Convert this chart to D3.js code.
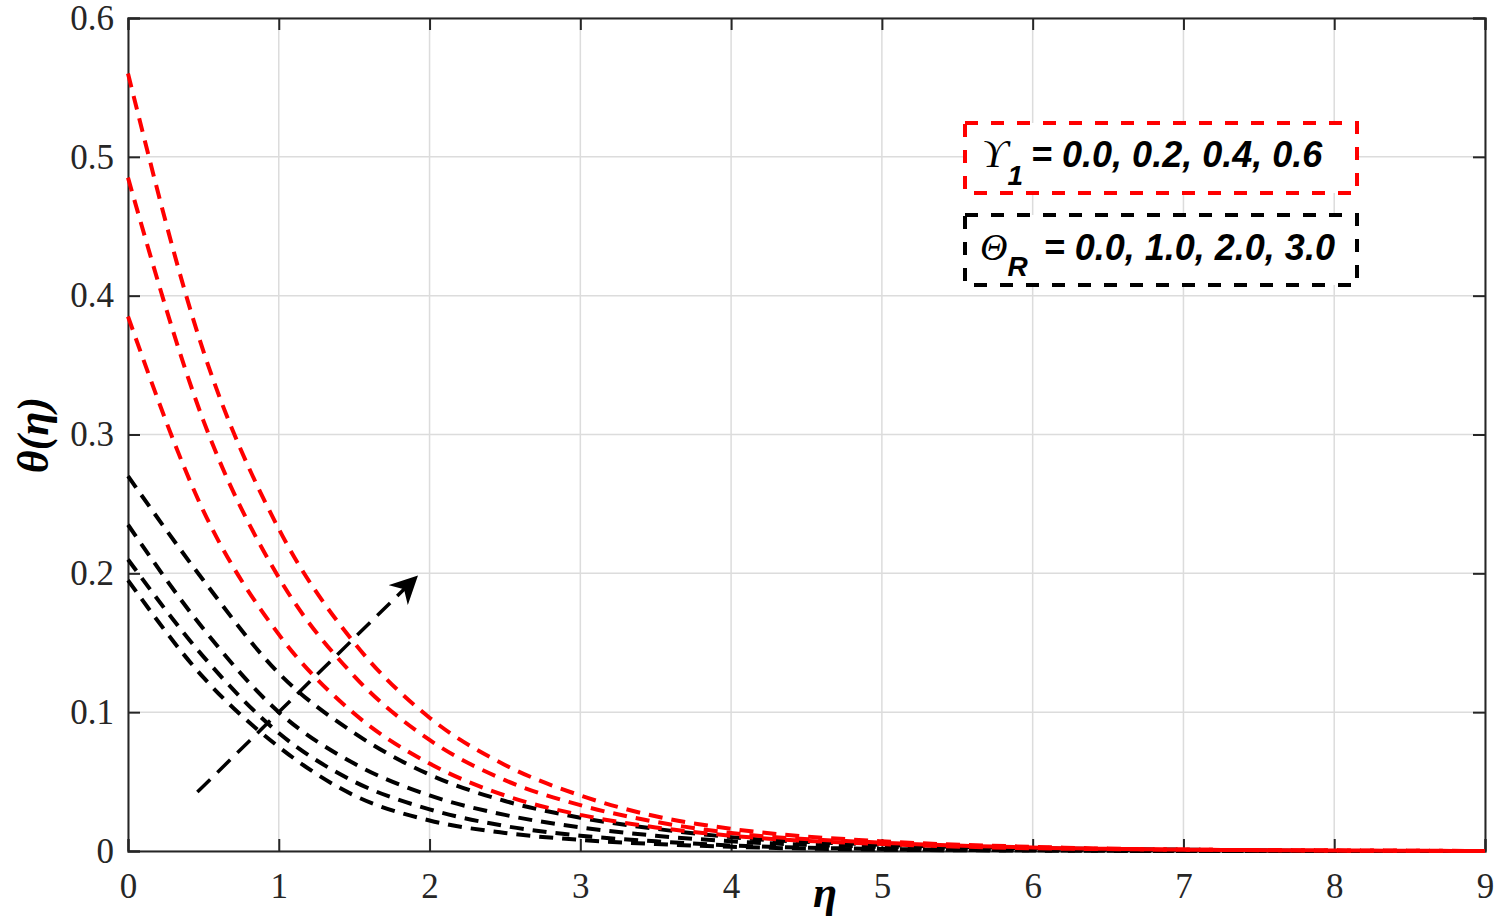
<!DOCTYPE html>
<html><head><meta charset="utf-8">
<script src="https://cdn.jsdelivr.net/npm/d3@7"></script>
<style>body{margin:0;background:#fff}</style>
</head><body>
<svg id="c" width="1500" height="921"></svg>
<script>
// eta grid and profiles
var eta = [0, 0.5, 1, 1.5, 2, 2.5, 3, 3.5, 4, 5, 6, 7, 8, 9];
var red1 = [0.56, 0.36, 0.232, 0.15, 0.096, 0.062, 0.04, 0.025, 0.016, 0.007, 0.003, 0.001, 0.0005, 0];
var red2 = [0.485, 0.31, 0.197, 0.126, 0.08, 0.051, 0.033, 0.021, 0.013, 0.006, 0.0025, 0.001, 0.0004, 0];
var red3 = [0.385, 0.245, 0.156, 0.099, 0.063, 0.04, 0.026, 0.017, 0.011, 0.005, 0.002, 0.001, 0.0003, 0];
var blk1 = [0.27, 0.195, 0.128, 0.085, 0.055, 0.036, 0.024, 0.016, 0.01, 0.0045, 0.002, 0.001, 0, 0];
var blk2 = [0.235, 0.16, 0.1, 0.063, 0.04, 0.026, 0.017, 0.011, 0.007, 0.003, 0.001, 0.0005, 0, 0];
var blk3 = [0.21, 0.14, 0.085, 0.05, 0.03, 0.018, 0.011, 0.007, 0.004, 0.0015, 0.0005, 0, 0, 0];
var blk4 = [0.195, 0.125, 0.075, 0.04, 0.022, 0.013, 0.008, 0.005, 0.003, 0.001, 0.0003, 0, 0, 0];
var xTicks = [0, 1, 2, 3, 4, 5, 6, 7, 8, 9];
var yTicks = [0, 0.1, 0.2, 0.3, 0.4, 0.5, 0.6];
var arrowFrom = [0.46, 0.0425], arrowTo = [1.91, 0.197];

var svg = d3.select("#c");
var x = d3.scaleLinear().domain([0, 9]).range([128, 1485]);
var y = d3.scaleLinear().domain([0, 0.6]).range([851, 18]);

svg.append("defs").append("marker").attr("id", "ah").attr("viewBox", "0 0 10 10")
    .attr("refX", 9).attr("refY", 5).attr("markerUnits", "userSpaceOnUse").attr("orient", "auto")
    .attr("markerWidth", 28).attr("markerHeight", 28)
    .append("path").attr("d", "M0,0 L10,5 L0,10 L3,5 Z").attr("fill", "#000");

// grid
svg.append("g").selectAll("line").data(xTicks).join("line")
    .attr("x1", d => x(d)).attr("x2", d => x(d)).attr("y1", y(0)).attr("y2", y(0.6))
    .attr("stroke", "#dcdcdc").attr("stroke-width", 1.5);
svg.append("g").selectAll("line").data(yTicks).join("line")
    .attr("x1", x(0)).attr("x2", x(9)).attr("y1", d => y(d)).attr("y2", d => y(d))
    .attr("stroke", "#dcdcdc").attr("stroke-width", 1.5);

// axes
svg.append("g").attr("transform", "translate(0," + y(0) + ")")
    .call(d3.axisBottom(x).tickValues(xTicks).tickSize(-12).tickPadding(22).tickFormat(d3.format("d")));
svg.append("g").attr("transform", "translate(" + x(0) + ",0)")
    .call(d3.axisLeft(y).tickValues(yTicks).tickSize(-12).tickPadding(14).tickFormat(d => d === 0 ? "0" : d3.format(".1f")(d)));
svg.append("g").attr("transform", "translate(0," + y(0.6) + ")")
    .call(d3.axisTop(x).tickValues(xTicks).tickSize(-12).tickFormat(""));
svg.append("g").attr("transform", "translate(" + x(9) + ",0)")
    .call(d3.axisRight(y).tickValues(yTicks).tickSize(-12).tickFormat(""));
svg.selectAll(".domain, .tick line").attr("stroke", "#262626").attr("stroke-width", 2);
svg.selectAll(".tick text").attr("font-family", "Liberation Serif, serif").attr("font-size", 35).attr("fill", "#262626");

// curves
var line = d3.line().x((d, i) => x(eta[i])).y(d => y(d)).curve(d3.curveMonotoneX);
[[blk1, "#000"], [blk2, "#000"], [blk3, "#000"], [blk4, "#000"], [red1, "#f00"], [red2, "#f00"], [red3, "#f00"]]
  .forEach(function (s) {
    svg.append("path").datum(s[0]).attr("d", line).attr("fill", "none")
        .attr("stroke", s[1]).attr("stroke-width", 4).attr("stroke-dasharray", "14,9");
  });

// arrow
svg.append("line").attr("x1", x(arrowFrom[0])).attr("y1", y(arrowFrom[1]))
    .attr("x2", x(arrowTo[0])).attr("y2", y(arrowTo[1]))
    .attr("stroke", "#000").attr("stroke-width", 3.5).attr("stroke-dasharray", "18,10")
    .attr("marker-end", "url(#ah)");

// legend boxes
function box(y0, col) {
  svg.append("rect").attr("x", 965).attr("y", y0).attr("width", 392).attr("height", 70)
      .attr("fill", "#fff").attr("stroke", col).attr("stroke-width", 4).attr("stroke-dasharray", "13,13");
}
box(123, "#f00"); box(215, "#000");
var lf = "Liberation Sans, Arial, sans-serif";
var t1 = svg.append("text").attr("x", 982).attr("y", 167).attr("font-size", 36).attr("font-family", lf);
t1.append("tspan").attr("font-family", "Liberation Serif, serif").attr("font-style", "italic").attr("font-size", 40).text("\u03D2");
t1.append("tspan").attr("dy", 18).attr("font-weight", "bold").attr("font-style", "italic").attr("font-size", 28).text("1");
t1.append("tspan").attr("dy", -18).attr("dx", 8).attr("font-weight", "bold").attr("font-style", "italic").text("= 0.0, 0.2, 0.4, 0.6");
var t2 = svg.append("text").attr("x", 980).attr("y", 260).attr("font-size", 36).attr("font-family", lf);
t2.append("tspan").attr("font-family", "Liberation Serif, serif").attr("font-style", "italic").attr("font-size", 38).text("\u0398");
t2.append("tspan").attr("dy", 16).attr("font-weight", "bold").attr("font-style", "italic").attr("font-size", 28).text("R");
t2.append("tspan").attr("dy", -16).attr("dx", 16).attr("font-weight", "bold").attr("font-style", "italic").text("= 0.0, 1.0, 2.0, 3.0");

// axis labels
svg.append("text").attr("x", 825).attr("y", 907).attr("text-anchor", "middle")
    .attr("font-family", "Liberation Serif, serif").attr("font-style", "italic").attr("font-weight", "bold")
    .attr("font-size", 44).text("\u03B7");
svg.append("text").attr("transform", "translate(48,435) rotate(-90)").attr("text-anchor", "middle")
    .attr("font-family", "Liberation Serif, serif").attr("font-style", "italic").attr("font-weight", "bold")
    .attr("font-size", 44).text("\u03B8(\u03B7)");
</script>
</body></html>
